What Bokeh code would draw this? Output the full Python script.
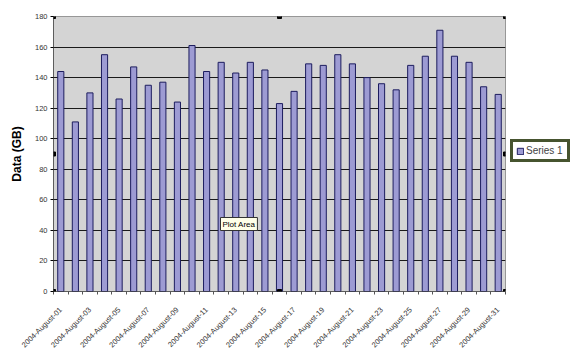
import math
from bokeh.plotting import figure
from bokeh.models import (ColumnDataSource, FixedTicker, Legend, LegendItem,
                          Label, Range1d)
from bokeh.embed import file_html
from bokeh.resources import INLINE

# ---- data ----
days = list(range(1, 32))
labels = [f"2004-August-{d:02d}" for d in days]
values = [144, 111, 130, 155, 126, 147, 135, 137, 124, 161,
          144, 150, 143, 150, 145, 123, 131, 149, 148, 155,
          149, 140, 136, 132, 148, 154, 171, 154, 150, 134, 129]
y_ticks = [0, 20, 40, 60, 80, 100, 120, 140, 160, 180]
series_name = "Series 1"
y_title = "Data (GB)"

x0, x1 = 0.5, len(days) + 0.5
y0, y1 = y_ticks[0], y_ticks[-1]

src = ColumnDataSource(dict(x=days, top=values, label=labels))

p = figure(frame_width=452, frame_height=275,
           x_range=Range1d(x0, x1), y_range=Range1d(y0, y1),
           output_backend="svg", toolbar_location=None,
           min_border_left=53, min_border_top=16,
           min_border_bottom=56, min_border_right=66)

p.background_fill_color = "#d4d4d4"
p.border_fill_color = "white"
p.outline_line_color = "#444444"
p.outline_line_dash = "1 1"
p.outline_line_width = 1

r = p.vbar(x="x", top="top", width=0.42, bottom=0, source=src,
           fill_color="#9d9bd3", line_color="#1c1c5e", line_width=1)

# grid
p.xgrid.visible = False
p.ygrid.ticker = FixedTicker(ticks=y_ticks[1:-1])
p.ygrid.grid_line_color = "#1a1a1a"
p.ygrid.grid_line_width = 1

# y axis
p.yaxis.ticker = FixedTicker(ticks=y_ticks)
p.yaxis.axis_label = y_title
p.yaxis.axis_label_text_font = "Liberation Sans"
p.yaxis.axis_label_text_font_style = "bold"
p.yaxis.axis_label_text_font_size = "12px"
p.yaxis.axis_label_text_color = "black"
p.yaxis.axis_label_standoff = 8
p.yaxis.major_label_text_font = "Liberation Sans"
p.yaxis.major_label_text_font_size = "7.5px"
p.yaxis.major_label_text_color = "#333333"
p.yaxis.major_label_standoff = 3
p.yaxis.major_tick_out = 3
p.yaxis.major_tick_in = 0
p.yaxis.minor_tick_line_color = None
p.yaxis.axis_line_color = "#222222"
p.yaxis.axis_line_dash = "1 1"

# x axis
odd = [d for d in days if d % 2 == 1]
p.xaxis.ticker = FixedTicker(ticks=odd, minor_ticks=[d + 0.5 for d in [0] + days])
p.xaxis.major_label_overrides = {d: labels[d - 1] for d in odd}
p.xaxis.major_label_orientation = math.pi / 4
p.xaxis.major_label_text_font = "Liberation Sans"
p.xaxis.major_label_text_font_size = "7.5px"
p.xaxis.major_label_text_color = "#333333"
p.xaxis.major_label_standoff = 14
p.xaxis.major_tick_out = 0
p.xaxis.major_tick_in = 0
p.xaxis.minor_tick_out = 3
p.xaxis.minor_tick_in = 0
p.xaxis.minor_tick_line_color = "#555555"
p.xaxis.axis_line_color = "#222222"
p.xaxis.axis_line_dash = "1 1"

# selection handles of the plot area
xm, ym = (x0 + x1) / 2, (y0 + y1) / 2
p.scatter(x=[x0, xm, x1, x1, x1, xm, x0, x0], y=[y1, y1, y1, ym, y0, y0, y0, ym],
          marker="square", size=4, color="black")

# tooltip
tip = Label(x=167, y=61, x_units="screen", y_units="screen", text="Plot Area",
            text_font="Liberation Sans", text_font_size="8px", text_color="black",
            background_fill_color="#ffffe8", border_line_color="#333333",
            border_line_width=1, padding=2)
p.add_layout(tip)

legend = Legend(items=[LegendItem(label=series_name, renderers=[r])],
                location=(5, 129), orientation="vertical",
                border_line_color="#46542f", border_line_width=3, border_line_alpha=1,
                background_fill_color="white", background_fill_alpha=1,
                label_text_font="Liberation Sans", label_text_font_size="10px",
                glyph_width=8, glyph_height=8, label_standoff=2, label_width=38,
                padding=3, margin=0, spacing=0, label_height=10)
p.add_layout(legend, "right")

open("out.html", "w").write(file_html(p, INLINE))
